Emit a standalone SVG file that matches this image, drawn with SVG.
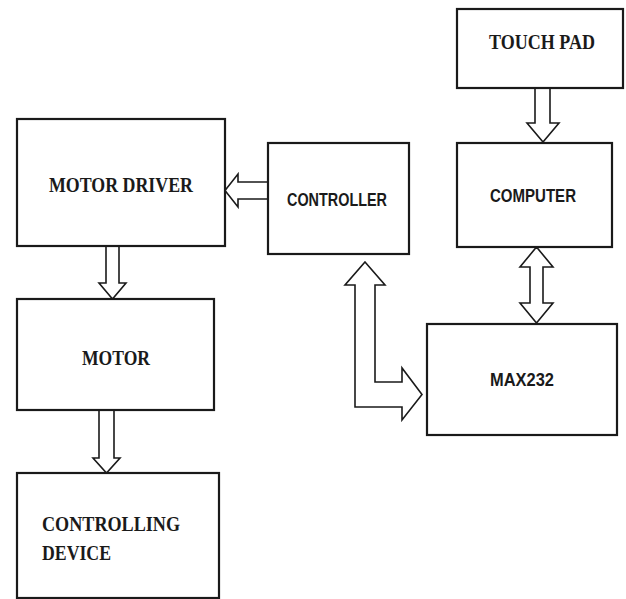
<svg xmlns="http://www.w3.org/2000/svg" width="626" height="599" viewBox="0 0 626 599">
<style>
.box{fill:#fff;stroke:#1a1a1a;stroke-width:2.2}
.arr{fill:#fff;stroke:#1a1a1a;stroke-width:1.6;stroke-linejoin:miter}
.serif{font-family:"Liberation Serif","Times New Roman",serif;font-weight:bold;font-size:21px;fill:#1a1a1a}
.sans{font-family:"Liberation Sans",Arial,sans-serif;font-weight:bold;font-size:18px;fill:#1a1a1a}
</style>
<rect width="626" height="599" fill="#fff"/>
<g id="connectors">
<polygon class="arr" points="268,182 238,182 238,174 225,190.5 238,207 238,199 268,199"/>
<polygon class="arr" points="106,246 119,246 119,283 126,283 112.5,299 99,283 106,283"/>
<polygon class="arr" points="99,410 114,410 114,458 120,458 106.5,473 93,458 99,458"/>
<polygon class="arr" points="535,88 550,88 550,123 559,123 543,142 527,123 535,123"/>
<polygon class="arr" points="536.5,247 553,267 543,267 543,303 553,303 536.5,323 520,303 530,303 530,267 520,267"/>
<polygon class="arr" points="365,262 385,285 375,285 375,382 402,382 402,368 422,394.5 402,420 402,407 355,407 355,285 345,285"/>
</g>
<g id="touchpad">
<rect class="box" x="457" y="9" width="166" height="79"/>
<text class="serif" x="489" y="49" textLength="106" lengthAdjust="spacingAndGlyphs">TOUCH PAD</text>
</g>
<g id="motordriver">
<rect class="box" x="17" y="119" width="208" height="127"/>
<text class="serif" x="49" y="192" textLength="144" lengthAdjust="spacingAndGlyphs">MOTOR DRIVER</text>
</g>
<g id="controller">
<rect class="box" x="268" y="143" width="141" height="111"/>
<text class="sans" x="287" y="206" textLength="100" lengthAdjust="spacingAndGlyphs">CONTROLLER</text>
</g>
<g id="computer">
<rect class="box" x="457" y="143" width="155" height="104"/>
<text class="sans" x="490" y="202" textLength="86" lengthAdjust="spacingAndGlyphs">COMPUTER</text>
</g>
<g id="motor">
<rect class="box" x="17" y="299" width="197" height="111"/>
<text class="serif" x="82" y="365" textLength="68" lengthAdjust="spacingAndGlyphs">MOTOR</text>
</g>
<g id="max232">
<rect class="box" x="427" y="324" width="190" height="111"/>
<text class="sans" x="490" y="386" textLength="64" lengthAdjust="spacingAndGlyphs">MAX232</text>
</g>
<g id="controllingdevice">
<rect class="box" x="17" y="473" width="202" height="125"/>
<text class="serif" x="42" y="531" textLength="138" lengthAdjust="spacingAndGlyphs">CONTROLLING</text>
<text class="serif" x="42" y="560" textLength="69" lengthAdjust="spacingAndGlyphs">DEVICE</text>
</g>
</svg>
